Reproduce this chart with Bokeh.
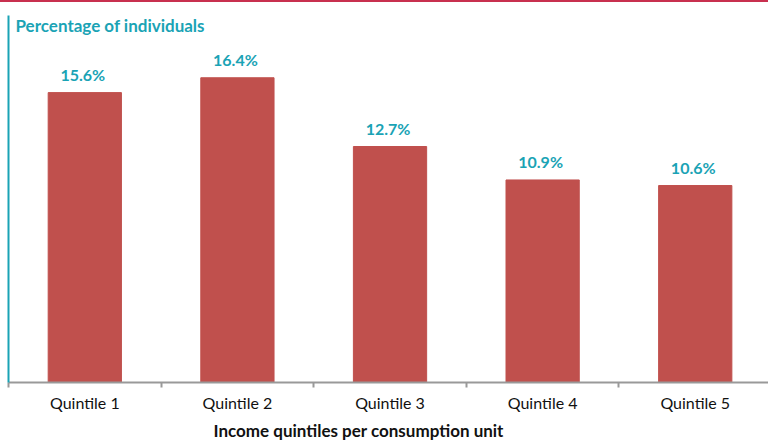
from bokeh.plotting import figure
from bokeh.models import (ColumnDataSource, LabelSet, Label, Range1d, LinearAxis,
                          FixedTicker, Title, Div)
from bokeh.layouts import column
from bokeh.core.properties import value
from bokeh.embed import file_html
from bokeh.resources import INLINE

categories = ["Quintile 1", "Quintile 2", "Quintile 3", "Quintile 4", "Quintile 5"]
values = [15.6, 16.4, 12.7, 10.9, 10.6]
value_labels = ["15.6%", "16.4%", "12.7%", "10.9%", "10.6%"]
positions = [1, 2, 3, 4, 5]
boundaries = [0.5, 1.5, 2.5, 3.5, 4.5, 5.5]

TEAL = "#1AA3B5"
BAR = "#C0504D"
RED = "#C8304F"
GRAY = "#999999"
FONT = "Lato"

source = ColumnDataSource(dict(x=positions, top=values, label=value_labels, cat=categories))

# thin red rule at the top of the page
rule = Div(text="", width=768, height=2, margin=0, styles={"background-color": RED})

p = figure(width=768, height=442, output_backend="svg", toolbar_location=None,
           x_range=Range1d(0.5, 5.48), y_range=Range1d(0, 19.75),
           min_border_left=8, min_border_right=0, min_border_top=13, min_border_bottom=60,
           x_axis_type=None, y_axis_type=None, margin=0)
p.outline_line_color = None
p.grid.visible = False
p.background_fill_color = "white"
p.border_fill_color = "white"

p.vbar(x="x", top="top", width=0.48, source=source, color=BAR)

labels = LabelSet(x="x", y="top", text="label", source=source, text_align="center",
                  text_baseline="alphabetic", y_offset=12, x_offset=-2, text_color=TEAL,
                  text_font=value(FONT), text_font_style="bold", text_font_size="16px")
p.add_layout(labels)

# y axis: teal line only
yax = LinearAxis(ticker=FixedTicker(ticks=[]), axis_line_color=TEAL, axis_line_width=2,
                 major_tick_out=0, major_tick_in=0, minor_tick_out=0, minor_tick_in=0,
                 major_label_standoff=0)
p.add_layout(yax, "left")

# x axis: category labels at centres, small ticks at category boundaries
xax = LinearAxis(ticker=FixedTicker(ticks=positions, minor_ticks=boundaries),
                 axis_line_color=GRAY, axis_line_width=2,
                 major_tick_line_color=None, major_tick_out=0, major_tick_in=0,
                 minor_tick_line_color=GRAY, minor_tick_line_width=2,
                 minor_tick_out=5, minor_tick_in=0,
                 major_label_overrides={pos: c for pos, c in zip(positions, categories)},
                 major_label_text_font=FONT, major_label_text_font_size="16px",
                 major_label_text_color="#111111", major_label_standoff=5)
p.add_layout(xax, "below")

xtitle = Title(text="Income quintiles per consumption unit", align="left", offset=205,
               text_font=FONT, text_font_style="bold", text_font_size="17px",
               text_color="#111111", standoff=7)
p.add_layout(xtitle, "below")

ytitle = Label(x=7, y=357.5, x_units="screen", y_units="screen", text="Percentage of individuals",
               text_font=FONT, text_font_style="bold", text_font_size="17px",
               text_color=TEAL, text_baseline="alphabetic")
p.add_layout(ytitle)

layout = column(rule, p, spacing=0)
open("out.html", "w").write(file_html(layout, INLINE))
